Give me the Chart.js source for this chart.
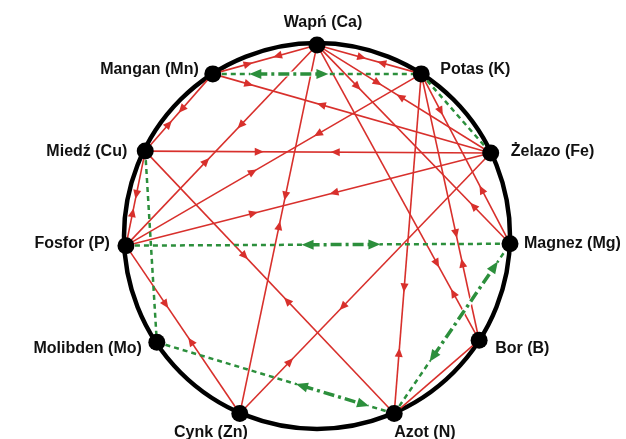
<!DOCTYPE html>
<html>
<head>
<meta charset="utf-8">
<script src="https://cdn.jsdelivr.net/npm/chart.js@4.4.1/dist/chart.umd.min.js"></script>
<style>
  html, body { margin: 0; padding: 0; background: #fff; }
</style>
</head>
<body>
<canvas id="chart" width="626" height="439"></canvas>
<script>
const symbols = ['Ca', 'K', 'Fe', 'Mg', 'B', 'N', 'Zn', 'Mo', 'P', 'Cu', 'Mn'];
const names = ['Wapń (Ca)', 'Potas (K)', 'Żelazo (Fe)', 'Magnez (Mg)', 'Bor (B)', 'Azot (N)',
  'Cynk (Zn)', 'Molibden (Mo)', 'Fosfor (P)', 'Miedź (Cu)', 'Mangan (Mn)'];
// node positions on the ring (ring radius = 1)
const nodeX = [0.00, 0.54, 0.90, 1.00, 0.84, 0.40, -0.40, -0.83, -0.99, -0.89, -0.54];
const nodeY = [0.99, 0.84, 0.43, -0.04, -0.54, -0.92, -0.92, -0.55, -0.05, 0.44, 0.84];
const ringRadius = 1;

// antagonism (red) [from, to]
const antagonism = [
  ['Cu', 'Fe'], ['P', 'K'], ['P', 'Fe'], ['Ca', 'P'], ['Cu', 'N'], ['Fe', 'Zn'], ['Ca', 'Zn'],
  ['P', 'Zn'], ['K', 'N'], ['Ca', 'B'], ['K', 'B'], ['Ca', 'Mg'], ['K', 'Mg'], ['Ca', 'Fe'],
  ['Ca', 'K'], ['Ca', 'Mn'], ['Mn', 'Fe'], ['Mn', 'Cu'], ['Cu', 'P'], ['N', 'B']
];
// arrow spots along from->to: first one points to "to", second one back to "from"
const antagonismArrows = [
  [0.33, 0.55], [0.43, 0.65], [0.35, 0.57], [0.40, 0.58], [0.40, 0.57], [0.59, 0.80], [0.41, 0.49],
  [0.35, 0.57], [0.63, 0.82], [0.74, 0.84], [0.60, 0.71], [0.21, 0.81], [0.22, 0.68], [0.35, 0.48],
  [0.43, 0.62], [0.38, 0.66], [0.13, 0.39], [0.46, 0.65], [0.46, 0.65], null
];

// synergism (green) [from, to]
const synergism = [['Mn', 'K'], ['K', 'Fe'], ['P', 'Mg'], ['Cu', 'Mo'], ['Mo', 'N'], ['N', 'Mg']];
// double arrow: first tip points back to "from", second to "to"
const synergismArrows = [[0.18, 0.55], null, [0.46, 0.66], null, [0.59, 0.89], [0.31, 0.89]];

const RED = '#d8302c';
const GREEN = '#2c8f3c';

const pt = s => { const i = symbols.indexOf(s); return { x: nodeX[i], y: nodeY[i] }; };

const datasets = [];
antagonism.forEach(([a, b]) => datasets.push({
  type: 'line', data: [pt(a), pt(b)], borderColor: RED, borderWidth: 1.6,
  pointRadius: 0, showLine: true, fill: false, clip: false, order: 2
}));
synergism.forEach(([a, b]) => datasets.push({
  type: 'line', data: [pt(a), pt(b)], borderColor: GREEN, borderWidth: 2.5, borderDash: [5, 4],
  pointRadius: 0, showLine: true, fill: false, clip: false, order: 1
}));
datasets.push({
  type: 'scatter', data: symbols.map((s, i) => ({ x: nodeX[i], y: nodeY[i] })),
  pointRadius: 8.5, pointBackgroundColor: '#000', pointBorderWidth: 0, clip: false, order: -1
});

function head(ctx, x, y, ang, len, wid, color) {
  ctx.save();
  ctx.translate(x, y);
  ctx.rotate(ang);
  ctx.beginPath();
  ctx.moveTo(len / 2, 0);
  ctx.lineTo(-len / 2, wid / 2);
  ctx.lineTo(-len / 2, -wid / 2);
  ctx.closePath();
  ctx.fillStyle = color;
  ctx.fill();
  ctx.restore();
}

// label placement: [dx, dy, align]
const labelPlace = {
  Ca: [6, -22, 'center'], K: [19, -4, 'left'], Fe: [20, -1, 'left'], Mg: [14, 0, 'left'],
  B: [16, 8, 'left'], N: [0, 19, 'left'], Zn: [8, 19, 'right'], Mo: [-15, 6, 'right'],
  P: [-16, -2, 'right'], Cu: [-18, 1, 'right'], Mn: [-14, -4, 'right']
};

const diagram = {
  id: 'diagram',
  beforeDatasetsDraw(chart) {
    const { ctx, scales: { x, y } } = chart;
    const cx = x.getPixelForValue(0), cy = y.getPixelForValue(0);
    const r = x.getPixelForValue(ringRadius) - cx;
    ctx.save();
    ctx.beginPath();
    ctx.arc(cx, cy, r, 0, Math.PI * 2);
    ctx.lineWidth = 4.5;
    ctx.strokeStyle = '#000';
    ctx.stroke();
    ctx.restore();
  },
  afterDatasetsDraw(chart) {
    const { ctx, scales: { x, y } } = chart;
    const px = s => { const p = pt(s); return [x.getPixelForValue(p.x), y.getPixelForValue(p.y)]; };

    antagonism.forEach(([a, b], i) => {
      const spots = antagonismArrows[i];
      if (!spots) return;
      const [x1, y1] = px(a), [x2, y2] = px(b);
      const ang = Math.atan2(y2 - y1, x2 - x1);
      head(ctx, x1 + (x2 - x1) * spots[0], y1 + (y2 - y1) * spots[0], ang, 9, 8, RED);
      head(ctx, x1 + (x2 - x1) * spots[1], y1 + (y2 - y1) * spots[1], ang + Math.PI, 9, 8, RED);
    });

    synergism.forEach(([a, b], i) => {
      const spots = synergismArrows[i];
      if (!spots) return;
      const [x1, y1] = px(a), [x2, y2] = px(b);
      const ang = Math.atan2(y2 - y1, x2 - x1);
      const ax = x1 + (x2 - x1) * spots[0], ay = y1 + (y2 - y1) * spots[0];
      const bx = x1 + (x2 - x1) * spots[1], by = y1 + (y2 - y1) * spots[1];
      ctx.save();
      ctx.strokeStyle = '#fff';
      ctx.lineWidth = 5;
      ctx.beginPath(); ctx.moveTo(ax, ay); ctx.lineTo(bx, by); ctx.stroke();
      ctx.strokeStyle = GREEN;
      ctx.lineWidth = 3.5;
      ctx.setLineDash([11, 4, 3, 4]);
      ctx.beginPath(); ctx.moveTo(ax + Math.cos(ang) * 6, ay + Math.sin(ang) * 6);
      ctx.lineTo(bx - Math.cos(ang) * 6, by - Math.sin(ang) * 6); ctx.stroke();
      ctx.restore();
      head(ctx, ax + Math.cos(ang) * 5, ay + Math.sin(ang) * 5, ang + Math.PI, 12, 10, GREEN);
      head(ctx, bx - Math.cos(ang) * 5, by - Math.sin(ang) * 5, ang, 12, 10, GREEN);
    });

    ctx.save();
    ctx.font = 'bold 16px "Liberation Sans", Arial, sans-serif';
    ctx.fillStyle = '#111';
    ctx.textBaseline = 'middle';
    symbols.forEach((s, i) => {
      const [nx, ny] = px(s);
      const [dx, dy, align] = labelPlace[s];
      ctx.textAlign = align;
      ctx.fillText(names[i], nx + dx, ny + dy);
    });
    ctx.restore();
  }
};

new Chart(document.getElementById('chart'), {
  type: 'scatter',
  data: { datasets },
  options: {
    responsive: false,
    animation: false,
    layout: { padding: 0, autoPadding: false },
    plugins: { legend: { display: false }, tooltip: { enabled: false } },
    scales: {
      x: { type: 'linear', min: -1.6425, max: 1.601, display: false },
      y: { type: 'linear', min: -1.0518, max: 1.2228, display: false }
    }
  },
  plugins: [diagram]
});
</script>
</body>
</html>
